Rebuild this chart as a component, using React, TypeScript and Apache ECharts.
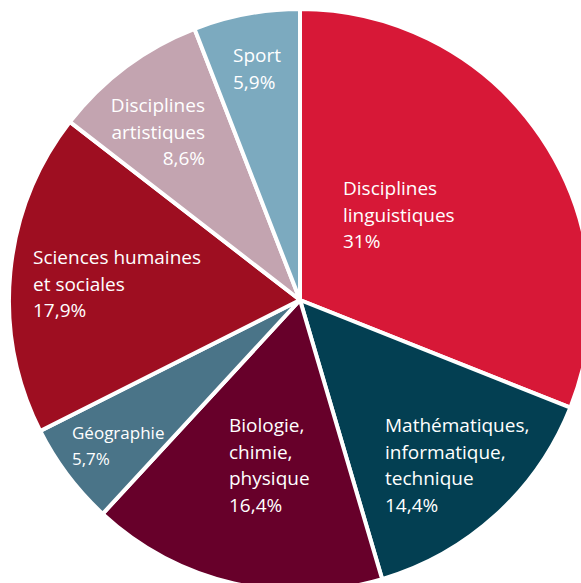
import React, { useEffect, useRef } from "react";
import * as echarts from "echarts";

const categories = [
  "Disciplines\nlinguistiques",
  "Mathématiques,\ninformatique,\ntechnique",
  "Biologie,\nchimie,\nphysique",
  "Géographie",
  "Sciences humaines\net sociales",
  "Disciplines\nartistiques",
  "Sport",
];
const values = [31, 14.4, 16.4, 5.7, 17.9, 8.6, 5.9];
const colors = ["#d71837", "#033f52", "#67002a", "#4a7488", "#9e0e21", "#c3a4b0", "#7caabf"];

// label anchor (left/right x, first-line top y) and alignment
const labelX = [343, 385, 229, 72, 33, 205, 233];
const labelY = [175, 412, 412, 419, 244, 92, 42];
const labelAlign = ["left", "left", "left", "left", "left", "right", "left"];
const labelSize = [19, 19, 19, 17, 19, 19, 19];

export default function App() {
  const ref = useRef<HTMLDivElement>(null);
  useEffect(() => {
    if (!ref.current) return;
    const chart = echarts.init(ref.current, null, { renderer: "svg" });
    chart.setOption({
      animation: false,
      backgroundColor: "#ffffff",
      series: [
        {
          type: "pie",
          center: [300, 300],
          radius: 291,
          startAngle: 90,
          clockwise: true,
          avoidLabelOverlap: false,
          labelLine: { show: false },
          itemStyle: { borderColor: "#ffffff", borderWidth: 4 },
          label: {
            show: true,
            position: "inside",
            color: "#ffffff",
            fontFamily: "Open Sans",
            lineHeight: 26.5,
            formatter: (p: any) => `${p.name}\n${String(p.value).replace(".", ",")}%`,
          },
          labelLayout: (p: any) => ({
            x: labelX[p.dataIndex],
            y: labelY[p.dataIndex],
            align: labelAlign[p.dataIndex],
            verticalAlign: "top",
          }),
          data: categories.map((name, i) => ({
            name,
            value: values[i],
            itemStyle: { color: colors[i] },
            label: { fontSize: labelSize[i], align: labelAlign[i] },
          })),
        },
      ],
    });
    return () => chart.dispose();
  }, []);
  return (
    <div
      ref={ref}
      style={{ position: "fixed", left: 0, top: 0, width: 581, height: 583 }}
    />
  );
}
